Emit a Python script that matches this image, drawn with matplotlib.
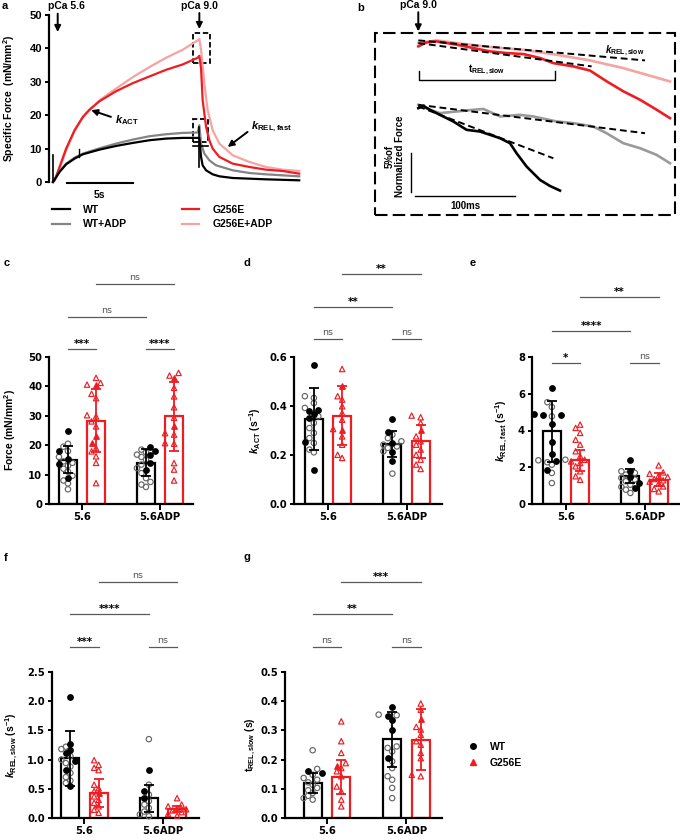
import numpy as np
import matplotlib
matplotlib.use('Agg')
import matplotlib.pyplot as plt
import matplotlib.transforms as mtransforms
from matplotlib.lines import Line2D
from matplotlib.patches import Rectangle

plt.rcParams['font.family'] = ['Liberation Sans', 'DejaVu Sans']
plt.rcParams['font.weight'] = 'bold'
plt.rcParams['mathtext.fontset'] = 'custom'
plt.rcParams['mathtext.rm'] = 'Liberation Sans:bold'
plt.rcParams['mathtext.it'] = 'Liberation Sans:italic:bold'
plt.rcParams['mathtext.bf'] = 'Liberation Sans:bold'

RED = '#ee1d23'
PINK = '#f5a3a3'
GRAY = '#848484'

# ---- panel a: force traces (time in s, specific force in mN/mm2) ----
wt_t = [0, 0.25, 0.5, 1.0, 1.64, 2.27, 3.54, 4.8, 6.06, 7.32, 8.59, 9.85, 10.98, 11.11,
        11.24, 11.36, 11.62, 12.12, 12.63, 13.64, 16.16, 18.69]
wt_f = [0, 1.5, 3.0, 5.3, 7.0, 8.3, 9.7, 10.8, 11.7, 12.5, 13.0, 13.2, 13.2, 13.2,
        7.5, 5.0, 3.5, 2.3, 1.7, 1.2, 0.8, 0.5]
wtadp_t = [0, 0.25, 0.5, 1.0, 1.64, 2.27, 3.54, 4.8, 6.06, 7.32, 8.59, 9.85, 10.98, 11.11,
           11.24, 11.49, 11.87, 12.37, 13.64, 14.9, 16.16, 18.69]
wtadp_f = [0, 1.5, 3.2, 5.5, 7.3, 8.5, 10.1, 11.5, 12.7, 13.7, 14.3, 14.7, 14.8, 17.0,
           11.5, 8.5, 6.5, 5.0, 3.5, 2.7, 2.3, 1.7]
mut_t = [0, 0.13, 0.5, 1.0, 1.64, 2.27, 2.78, 3.54, 4.8, 6.06, 7.32, 8.59, 9.85, 10.98, 11.11,
         11.24, 11.36, 11.62, 11.87, 12.12, 12.63, 13.64, 14.9, 16.16, 17.42, 18.69]
mut_f = [0, 0.5, 4.5, 10, 15.5, 19.5, 21.7, 24.2, 27.2, 29.6, 31.6, 33.6, 35.2, 37.2, 37.8,
         34, 24.5, 16.5, 12.5, 10, 7.5, 5.5, 4.5, 3.7, 3.3, 2.5]
mutadp_t = [0, 0.13, 0.5, 1.0, 1.64, 2.27, 2.78, 3.54, 4.8, 6.06, 7.32, 8.59, 9.85, 10.98, 11.11,
            11.24, 11.49, 11.74, 12.12, 12.63, 13.64, 14.9, 16.16, 17.42, 18.69]
mutadp_f = [0, 0.5, 4.0, 9.5, 15.3, 19.3, 21.5, 24.5, 28.0, 31.4, 34.4, 37.2, 39.6, 42.4, 42.8,
            39.5, 29.5, 21.5, 15.5, 11.5, 8.0, 6.0, 4.5, 3.7, 3.3]

# ---- panel b: early relaxation (time in ms, force in % with offsets) ----
b_wt_t = [0, 5, 11.7, 21.7, 35, 48.3, 61.7, 71.7, 81.7, 91.7, 98.3, 108.3, 121.7, 131.7, 141.7]
b_wt_f = [16.3, 16.6, 16.09, 15.43, 14.57, 13.48, 13.26, 12.83, 12.39, 11.74, 10.43, 8.7, 6.96, 6.17, 5.57]
b_wtadp_t = [0, 11.7, 21.7, 38.3, 55, 65, 81.7, 101.7, 115, 138.3, 155, 175, 188.3, 205, 221.7, 238.3, 251.7]
b_wtadp_f = [16.74, 16.09, 15.65, 15.87, 16.09, 16.2, 15.22, 15.43, 15.22, 14.57, 14.35, 13.91, 13.04,
             11.74, 11.09, 10.22, 9.13]
b_mut_t = [0, 8.3, 18.3, 38.3, 55, 71.7, 88.3, 105, 121.7, 135, 155, 171.7, 188.3, 205, 221.7, 238.3, 251.7]
b_mut_f = [24.35, 24.87, 25.0, 24.57, 24.13, 23.7, 23.48, 23.35, 22.83, 22.17, 21.74, 21.2, 19.8,
           18.5, 17.4, 16.1, 15.0]
b_mutadp_t = [0, 18.3, 38.3, 71.7, 105, 138.3, 171.7, 205, 228.3, 251.7]
b_mutadp_f = [24.78, 25.13, 24.78, 24.26, 23.9, 23.26, 22.52, 21.52, 20.65, 19.78]
# linear fits: (t0, f0, t1, f1)
fit_wt = [0, 16.52, 135, 9.78]
fit_wtadp = [0, 16.74, 226.7, 13.04]
fit_mut = [0, 24.78, 173.3, 21.74]
fit_mutadp = [0, 25.13, 226.7, 22.52]

# ---- bar panels: order WT 5.6, G256E 5.6, WT 5.6ADP, G256E 5.6ADP ----
groups = ['5.6', '5.6ADP']

force_mean = [15.1, 28.3, 14.0, 29.8]
force_sd = [4.7, 10.7, 4.6, 11.8]
force_open = [[20.5, 19.5, 18.0, 16.0, 14.5, 14.0, 13.0, 12.0, 11.0, 9.6, 8.0, 7.0, 5.0],
              [42.9, 41.2, 40.6, 37.5, 36.0, 30.2, 29.8, 28.1, 26.4, 19.0, 17.9, 16.2, 14.0, 7.1],
              [18.5, 17.6, 16.8, 16.0, 15.1, 13.4, 12.2, 10.5, 8.8, 7.5, 6.6, 5.8],
              [44.6, 43.7, 39.5, 36.6, 32.9, 29.3, 24.1, 23.6, 20.7, 20.5, 13.9, 11.7, 8.0]]
force_fill = [[25.0, 18.1, 15.4, 13.6, 8.8], [40.4, 23.0, 20.7],
              [19.3, 17.9, 16.6, 13.9, 11.7], [42.9, 26.4]]

kact_mean = [0.347, 0.361, 0.246, 0.256]
kact_sd = [0.125, 0.122, 0.053, 0.068]
kact_open = [[0.44, 0.433, 0.412, 0.392, 0.358, 0.331, 0.31, 0.29, 0.269, 0.249, 0.222, 0.211],
             [0.551, 0.44, 0.426, 0.399, 0.371, 0.344, 0.306, 0.276, 0.242, 0.201, 0.188],
             [0.283, 0.269, 0.256, 0.242, 0.235, 0.229, 0.215, 0.124],
             [0.361, 0.354, 0.331, 0.276, 0.256, 0.242, 0.222, 0.201, 0.181, 0.161, 0.143]]
kact_fill = [[0.569, 0.385, 0.378, 0.369, 0.351, 0.252, 0.140], [0.48, 0.303],
             [0.348, 0.293, 0.249, 0.211, 0.174], [0.303]]

krf_mean = [3.96, 2.38, 1.51, 1.32]
krf_sd = [1.66, 0.57, 0.39, 0.34]
krf_open = [[5.54, 5.28, 4.77, 2.41, 2.38, 2.27, 2.14, 1.69, 1.14],
            [4.32, 4.14, 3.87, 3.50, 3.23, 2.87, 2.60, 2.41, 2.32, 2.23, 2.05, 1.78, 1.51, 1.32],
            [1.78, 1.69, 1.6, 1.42, 1.33, 1.24, 1.05, 0.93, 0.78, 0.6],
            [2.1, 1.72, 1.65, 1.54, 1.47, 1.36, 1.29, 1.22, 1.11, 0.96, 0.82, 0.69]]
krf_fill = [[6.32, 4.92, 4.86, 4.83, 4.37, 3.36, 2.74, 2.32, 1.87], [],
            [2.41, 1.81, 1.47, 1.14, 0.87], []]

krs_mean = [1.02, 0.42, 0.34, 0.15]
krs_sd = [0.47, 0.24, 0.23, 0.05]
krs_open = [[1.22, 1.18, 1.06, 1.0, 0.94, 0.88, 0.77, 0.70, 0.64, 0.60],
            [0.99, 0.91, 0.86, 0.82, 0.57, 0.51, 0.46, 0.37, 0.31, 0.26, 0.2, 0.14, 0.09],
            [1.35, 0.57, 0.40, 0.29, 0.23, 0.17, 0.11, 0.06, 0.03],
            [0.34, 0.23, 0.2, 0.17, 0.15, 0.13, 0.10, 0.07, 0.04]]
krs_fill = [[2.07, 1.27, 1.16, 1.11, 0.97, 0.83, 0.55], [0.42], [0.83, 0.46, 0.34], []]

trs_mean = [0.12, 0.14, 0.27, 0.268]
trs_sd = [0.034, 0.057, 0.094, 0.104]
trs_open = [[0.232, 0.168, 0.148, 0.137, 0.131, 0.122, 0.114, 0.103, 0.095, 0.086, 0.076, 0.068, 0.063],
            [0.331, 0.263, 0.223, 0.188, 0.171, 0.16, 0.143, 0.108, 0.091, 0.063, 0.04],
            [0.354, 0.352, 0.245, 0.24, 0.228, 0.194, 0.171, 0.143, 0.131, 0.103, 0.068],
            [0.392, 0.371, 0.312, 0.303, 0.285, 0.263, 0.251, 0.223, 0.205, 0.148, 0.143]]
trs_fill = [[0.162, 0.154], [0.179], [0.379, 0.348, 0.337, 0.30, 0.205], [0.34]]

W, H = 680, 840
fig = plt.figure(figsize=(W / 100, H / 100), dpi=100)


def axes_px(l, t, r, b):
    return fig.add_axes([l / W, 1 - b / H, (r - l) / W, (b - t) / H])


def style_left(ax):
    for s in ['top', 'right']:
        ax.spines[s].set_visible(False)
    for s in ['left', 'bottom']:
        ax.spines[s].set_linewidth(1.6)
    ax.tick_params(axis='both', width=1.4, labelsize=7.5, pad=2)
    ax.tick_params(axis='y', length=3)
    ax.tick_params(axis='x', length=4)


# ================= panel a =================
ax = axes_px(49, 15, 302, 182)
style_left(ax)
ax.spines['bottom'].set_visible(False)
ax.set_xticks([])
ax.set_xlim(-0.3, 18.9)
ax.set_ylim(0, 50)
ax.set_yticks([0, 10, 20, 30, 40, 50])
ax.tick_params(axis='y', labelsize=8)
ax.set_ylabel('Specific Force  (mN/mm$^2$)', fontsize=7.5, fontweight='bold')
ax.yaxis.set_label_coords(-0.125, 0.5)
ax.plot(mutadp_t, mutadp_f, color=PINK, lw=1.6, label='G256E+ADP', clip_on=False)
ax.plot(mut_t, mut_f, color=RED, lw=1.6, label='G256E', clip_on=False)
ax.plot(wtadp_t, wtadp_f, color=GRAY, lw=1.6, label='WT+ADP', clip_on=False)
ax.plot(wt_t, wt_f, color='k', lw=1.6, label='WT', clip_on=False)
# small artefacts / markers
ax.plot([0, 0], [0, 8], color='k', lw=1.2)
ax.plot([2.0, 2.0], [7.5, 10], color='k', lw=1.0)
ax.plot([11.11, 11.11], [4.5, 16.5], color='k', lw=1.2)
ax.plot([10.6, 11.8], [10.8, 10.8], color='k', lw=1.2)
ax.add_patch(Rectangle((10.6, 35.6), 1.3, 9.0, fill=False, ls=(0, (3, 1.5)), lw=1.3, clip_on=False))
ax.add_patch(Rectangle((10.6, 12.0), 1.2, 6.8, fill=False, ls=(0, (3, 1.5)), lw=1.3, clip_on=False))
# scale bar
ax.plot([1.06, 6.06], [-0.3, -0.3], color='k', lw=1.5, clip_on=False)
ax.text(3.5, -4.0, '5s', ha='center', va='center', fontsize=7.5)
arr = dict(arrowstyle='-|>', color='k', lw=1.4, mutation_scale=9, shrinkA=0, shrinkB=0)
ax.annotate('', xy=(0.36, 44.9), xytext=(0.36, 50.4), arrowprops=arr, annotation_clip=False)
ax.text(1.0, 52.7, 'pCa 5.6', ha='center', va='center', fontsize=7.5)
ax.annotate('', xy=(11.11, 45.8), xytext=(11.11, 50.6), arrowprops=arr, annotation_clip=False)
ax.text(11.11, 52.7, 'pCa 9.0', ha='center', va='center', fontsize=7.5)
ax.annotate('', xy=(2.9, 21.5), xytext=(4.4, 19.5), arrowprops=arr)
ax.text(5.6, 18.6, r'$k_{\mathrm{ACT}}$', ha='center', va='center', fontsize=8)
ax.annotate('', xy=(13.26, 10.5), xytext=(14.77, 15.0), arrowprops=arr)
ax.text(16.6, 16.6, r'$k_{\mathrm{REL,fast}}$', ha='center', va='center', fontsize=8)
h, l = ax.get_legend_handles_labels()
order = [3, 2, 1, 0]
fig.legend([h[i] for i in order], [l[i] for i in order], ncol=2, frameon=False,
           loc='upper left', bbox_to_anchor=(52 / W, 1 - 205 / H), fontsize=7.5,
           handlelength=1.7, handletextpad=1.3, columnspacing=5.2, labelspacing=0.4,
           borderpad=0, borderaxespad=0)

# ================= panel b =================
ax = axes_px(375, 33, 675, 215)
ax.set_xlim(-43.3, 256.7)
ax.set_ylim(2.39, 26.09)
ax.axis('off')
ax.add_patch(Rectangle((0, 0), 1, 1, transform=ax.transAxes, fill=False, lw=1.5,
                       ls=(0, (6, 2.5)), clip_on=False))
ax.plot(b_mutadp_t, b_mutadp_f, color=PINK, lw=1.9)
ax.plot(b_mut_t, b_mut_f, color=RED, lw=1.9)
ax.plot(b_wtadp_t, b_wtadp_f, color='#9a9a9a', lw=1.9)
ax.plot(b_wt_t, b_wt_f, color='k', lw=1.9)
for ft in (fit_mutadp, fit_mut, fit_wtadp, fit_wt):
    ax.plot([ft[0], ft[2]], [ft[1], ft[3]], color='k', lw=1.4, ls=(0, (3.5, 2)))
ax.plot([1, 1, 136.7, 136.7], [21.2, 20.0, 20.0, 21.2], color='k', lw=1.0)
ax.text(68.3, 21.3, r't$_{\mathrm{REL,slow}}$', ha='center', va='center', fontsize=7)
ax.text(206.7, 23.8, r'$k_{\mathrm{REL,slow}}$', ha='center', va='center', fontsize=7)
ax.plot([-7.3, -7.3], [5.43, 10.43], color='k', lw=1.0)
ax.plot([-3.3, 96.7], [4.87, 4.87], color='k', lw=1.0)
ax.text(46.7, 3.55, '100ms', ha='center', va='center', fontsize=7)
ax.text(-23.3, 10.0, '5%of\nNormalized Force', ha='center', va='center', rotation=90,
        fontsize=7, linespacing=1.0)
ax.annotate('', xy=(0, 26.3), xytext=(0, 28.8), arrowprops=arr, annotation_clip=False)
ax.text(0, 29.8, 'pCa 9.0', ha='center', va='center', fontsize=7.5)

# ================= bar panels =================
bar_pos = np.array([-0.18, 0.18, 0.82, 1.18])
edge_cols = ['k', RED, 'k', RED]
pairs = [(0, 1), (2, 3), (0, 2), (1, 3)]
WIDE = 'DejaVu Sans'


def swarm(vals, ypx, xpx, step=4.5, mind=5.0):
    offs = np.zeros(len(vals))
    placed = []
    for i in np.argsort(vals):
        yp = vals[i] * ypx
        for k in [0, -1, 1, -2, 2, -3, 3, -4, 4]:
            xp = k * step
            if all((xp - a) ** 2 + (yp - b) ** 2 >= mind ** 2 for a, b in placed):
                break
        placed.append((xp, yp))
        offs[i] = xp / xpx
    return offs


def bar_panel(box, xlim, means, sds, opens, fills, ymax, yticks, fmt, ylabel, lab_x,
              labels, heights):
    ax = axes_px(*box)
    style_left(ax)
    ax.set_xlim(*xlim)
    ax.set_ylim(0, ymax)
    ax.set_yticks(yticks)
    ax.set_yticklabels([fmt.format(v) for v in yticks])
    ax.set_xticks([0, 1])
    ax.set_xticklabels(groups)
    for t in ax.get_xticklabels() + ax.get_yticklabels():
        t.set_family(WIDE)
        t.set_fontsize(7.2)
    ax.set_ylabel(ylabel, fontsize=7.5, fontweight='bold')
    ax.yaxis.set_label_coords(lab_x, 0.5)
    xpx = (box[2] - box[0]) / (xlim[1] - xlim[0])
    ypx = (box[3] - box[1]) / ymax
    ax.bar(bar_pos, means, width=0.23, color='white', edgecolor=edge_cols, linewidth=1.6, zorder=1)
    for i in range(4):
        op = list(opens[i])
        fl = list(fills[i])
        vals = np.array(op + fl)
        offs = swarm(vals, ypx, xpx)
        xs = bar_pos[i] + offs
        wt = i % 2 == 0
        mk = 'o' if wt else '^'
        col = 'k' if wt else RED
        ax.scatter(xs[:len(op)], op, s=15, marker=mk, facecolor='none',
                   edgecolor='#666666' if wt else RED, linewidth=0.85, zorder=3, clip_on=False)
        if fl:
            ax.scatter(xs[len(op):], fl, s=15, marker=mk, color=col, zorder=3, clip_on=False)
        ax.errorbar(bar_pos[i], means[i], yerr=sds[i], color=col, lw=1.3, capsize=3.5,
                    capthick=1.3, zorder=4)
    trans = mtransforms.blended_transform_factory(ax.transData, ax.transAxes)
    for (a, b), lab, hgt in zip(pairs, labels, heights):
        ax.plot([bar_pos[a], bar_pos[b]], [hgt, hgt], color='#5a5a5a', lw=0.9,
                transform=trans, clip_on=False)
        ns = lab == 'ns'
        ax.annotate(lab, xy=((bar_pos[a] + bar_pos[b]) / 2, hgt), xycoords=trans,
                    xytext=(0, 1.5 if ns else 0), textcoords='offset points',
                    ha='center', va='bottom', fontsize=6.8 if ns else 7.5,
                    family=WIDE, fontweight='normal' if ns else 'bold',
                    color='#555555' if ns else 'k', annotation_clip=False)
    return ax


bar_panel((49, 357, 193, 504), (-0.423, 1.423), force_mean, force_sd, force_open, force_fill,
          50, [0, 10, 20, 30, 40, 50], '{:g}', 'Force (mN/mm$^2$)', -0.215,
          ['***', '****', 'ns', 'ns'], [1.054, 1.054, 1.272, 1.497])
bar_panel((294, 357, 442, 504), (-0.433, 1.452), kact_mean, kact_sd, kact_open, kact_fill,
          0.6, [0, 0.2, 0.4, 0.6], '{:.1f}', r'$k_{\mathrm{ACT}}$ (s$^{-1}$)', -0.21,
          ['ns', 'ns', '**', '**'], [1.122, 1.122, 1.34, 1.565])
bar_panel((532, 357, 680, 504), (-0.433, 1.452), krf_mean, krf_sd, krf_open, krf_fill,
          8, [0, 2, 4, 6, 8], '{:g}', r'$k_{\mathrm{REL,fast}}$ (s$^{-1}$)', -0.15,
          ['*', 'ns', '****', '**'], [0.959, 0.959, 1.177, 1.408])
bar_panel((52, 672, 199, 818), (-0.414, 1.459), krs_mean, krs_sd, krs_open, krs_fill,
          2.5, [0, 0.5, 1.0, 1.5, 2.0, 2.5], '{:.1f}', r'$k_{\mathrm{REL,slow}}$ (s$^{-1}$)', -0.218,
          ['***', 'ns', '****', 'ns'], [1.171, 1.171, 1.397, 1.616])
bar_panel((285, 672, 442, 818), (-0.528, 1.447), trs_mean, trs_sd, trs_open, trs_fill,
          0.5, [0, 0.1, 0.2, 0.3, 0.4, 0.5], '{:.1f}', r't$_{\mathrm{REL,slow}}$ (s)', -0.172,
          ['ns', 'ns', '**', '***'], [1.171, 1.171, 1.397, 1.616])

leg_h = [Line2D([], [], ls='none', marker='o', color='k', markersize=4),
         Line2D([], [], ls='none', marker='^', color=RED, markersize=4)]
fig.legend(leg_h, ['WT', 'G256E'], frameon=False, loc='center left',
           bbox_to_anchor=(463 / W, 1 - 755 / H), fontsize=7.5, handletextpad=0.6,
           labelspacing=0.6, borderpad=0, borderaxespad=0)

for lab, x, y in [('a', 2, 1), ('b', 357, 3), ('c', 4, 258), ('d', 244, 258),
                  ('e', 470, 258), ('f', 4, 553), ('g', 243, 552)]:
    fig.text(x / W, 1 - y / H, lab, fontsize=8, fontweight='bold', va='top', ha='left')

fig.savefig('out.png', dpi=100)
